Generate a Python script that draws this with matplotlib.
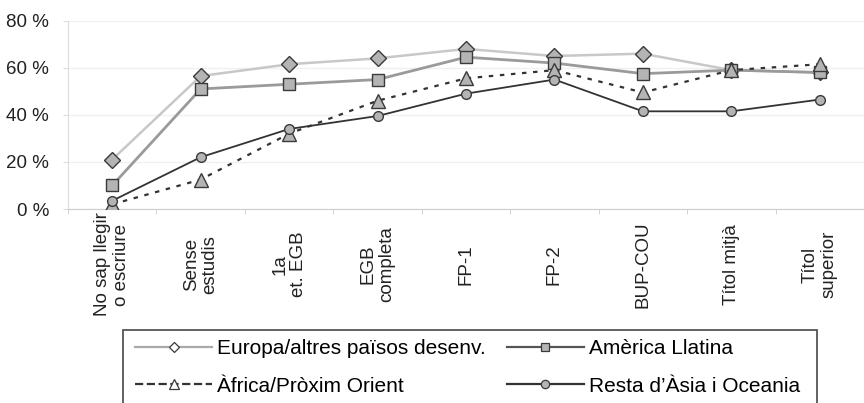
import numpy as np
import matplotlib
matplotlib.use("Agg")
import matplotlib.pyplot as plt
from matplotlib.lines import Line2D
from matplotlib.patches import Rectangle

plt.rcParams['font.family'] = ['Liberation Sans', 'DejaVu Sans']

categories = ["No sap llegir\no escriure", "Sense\nestudis", "1a\net. EGB", "EGB\ncompleta",
              "FP-1", "FP-2", "BUP-COU", "Títol mitjà", "Títol\nsuperior"]
europa = [21, 56.5, 61.5, 64, 68, 65, 66, 59, 58]
america = [10, 51, 53, 55, 64.5, 62, 57.5, 59, 58]
africa = [2, 12.5, 32, 46, 55.5, 59, 49.5, 59, 61.5]
resta = [3.5, 22, 34, 39.5, 49, 55, 41.5, 41.5, 46.5]

x = np.arange(len(categories))
W, H = 864, 403

fig = plt.figure(figsize=(8.64, 4.03), dpi=100)
ax = fig.add_axes([68/W, 1-209/H, 1-68/W, (209-20.7)/H])

fill = '#b4b4b4'
edge = '#3a3a3a'
l_eu, = ax.plot(x, europa, color='#c8c8c8', lw=1.8, marker='D', ms=8.5, mfc=fill, mec=edge, mew=1.0, zorder=3)
l_am, = ax.plot(x, america, color='#9a9a9a', lw=2.0, marker='s', ms=9, mfc=fill, mec=edge, mew=1.0, zorder=4)
l_af, = ax.plot(x, africa, color='#333333', lw=1.6, ls=(0, (2, 3)), marker='^', ms=10, mfc=fill, mec=edge,
                mew=1.0, zorder=5)
l_re, = ax.plot(x, resta, color='#333333', lw=1.3, marker='o', ms=7, mfc=fill, mec=edge, mew=1.0, zorder=6)

ax.set_ylim(0, 80)
ax.set_yticks([0, 20, 40, 60, 80])
ax.set_yticklabels([f"{v} %" for v in [0, 20, 40, 60, 80]], fontsize=13.5, color='#222222')
ax.set_xlim(-0.5, 8 + 32/90)
ax.set_xticks(x)
ax.set_xticklabels(categories, rotation=90, ha='center', va='center', multialignment='center',
                   fontsize=13.5, color='#222222', linespacing=1.15)
ax.set_xticks(np.arange(-0.5, 9, 1), minor=True)
ax.tick_params(axis='x', which='major', length=0, pad=40)
ax.tick_params(axis='x', which='minor', length=3.5, color='#cccccc')
ax.tick_params(axis='y', length=3.5, color='#dddddd', pad=10)
ax.grid(axis='y', color='#f0f0f0', lw=1.0)
ax.set_axisbelow(True)
for s in ['top', 'right']:
    ax.spines[s].set_visible(False)
ax.spines['left'].set_color('#dddddd')
ax.spines['bottom'].set_color('#cccccc')


def leg_line(src, color, mfc, ms):
    return Line2D([], [], color=color, lw=1.6, ls=src.get_linestyle(),
                  marker=src.get_marker(), ms=ms, mfc=mfc, mec=edge, mew=0.9)


# legend frame, cut off by the bottom of the image
fig.patches.append(Rectangle((123/W, -0.05), (817-123)/W, 0.05 + 1-330/H, transform=fig.transFigure,
                             fill=False, edgecolor='#555555', lw=1.3))

handles = [leg_line(l_eu, '#aaaaaa', 'white', 5.5), leg_line(l_af, '#333333', 'white', 6.5),
           leg_line(l_am, '#555555', fill, 6), leg_line(l_re, '#333333', fill, 6)]
labels = ['Europa/altres països desenv.', 'Àfrica/Pròxim Orient',
          'Amèrica Llatina', 'Resta d’Àsia i Oceania']
fig.legend(handles, labels, loc='upper left', bbox_to_anchor=(135/W, 1-339/H), ncol=2,
           frameon=False, fontsize=15, handlelength=3.7, handletextpad=0.25, columnspacing=1.0,
           labelspacing=0.9, borderpad=0, borderaxespad=0)

fig.savefig("out.png", dpi=100)
